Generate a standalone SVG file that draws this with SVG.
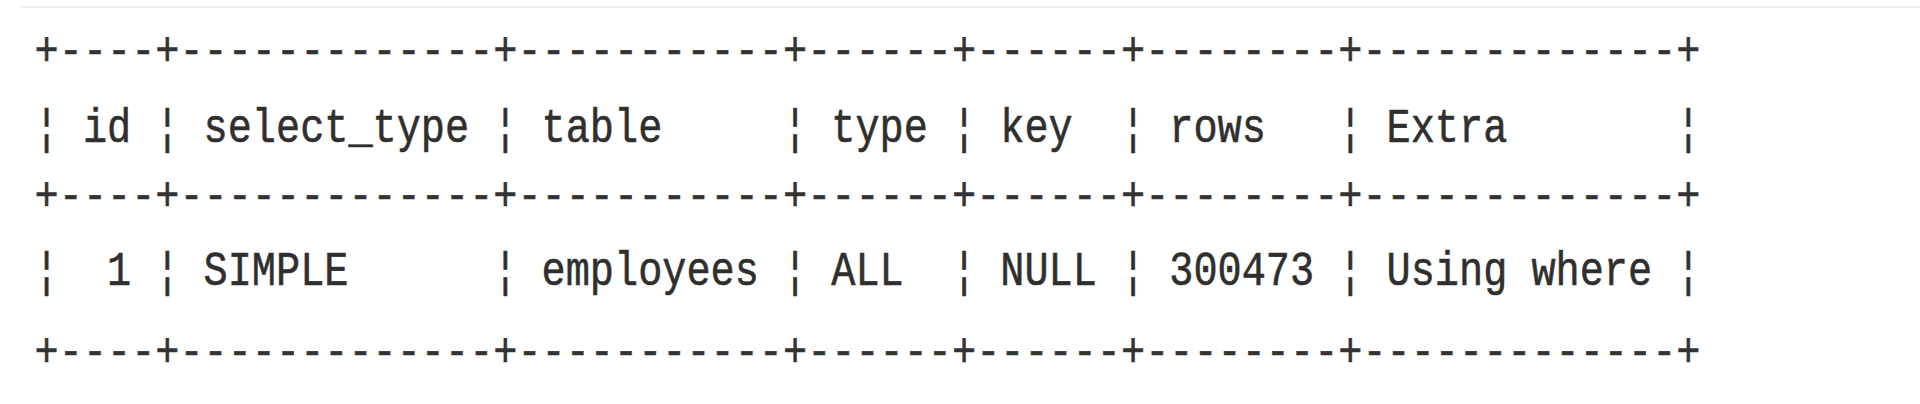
<svg xmlns="http://www.w3.org/2000/svg" width="1920" height="404" viewBox="0 0 1920 404">
<style>
text{font-family:"Liberation Mono","DejaVu Sans Mono",monospace;font-size:49px;fill:#2f2f2f;stroke:#2f2f2f;stroke-width:0.6;white-space:pre}
.b{fill:#333333;stroke:#333333}
</style>
<rect width="1920" height="404" fill="#ffffff"/>
<line x1="20" y1="7" x2="1920" y2="7" stroke="#f1f1f1" stroke-width="2"/>
<g id="table" transform="scale(0.8211,1)">
<g id="border-top"><text class="b" x="42.14" y="65" xml:space="preserve">+----+-------------+-----------+------+------+--------+-------------+</text></g>
<g id="header-row"><text x="42.14" y="142" xml:space="preserve">¦ id ¦ select_type ¦ table     ¦ type ¦ key  ¦ rows   ¦ Extra       ¦</text></g>
<g id="border-mid"><text class="b" x="42.14" y="210" xml:space="preserve">+----+-------------+-----------+------+------+--------+-------------+</text></g>
<g id="data-row"><text x="42.14" y="285" xml:space="preserve">¦  1 ¦ SIMPLE      ¦ employees ¦ ALL  ¦ NULL ¦ 300473 ¦ Using where ¦</text></g>
<g id="border-bottom"><text class="b" x="42.14" y="366" xml:space="preserve">+----+-------------+-----------+------+------+--------+-------------+</text></g>
</g>
</svg>
